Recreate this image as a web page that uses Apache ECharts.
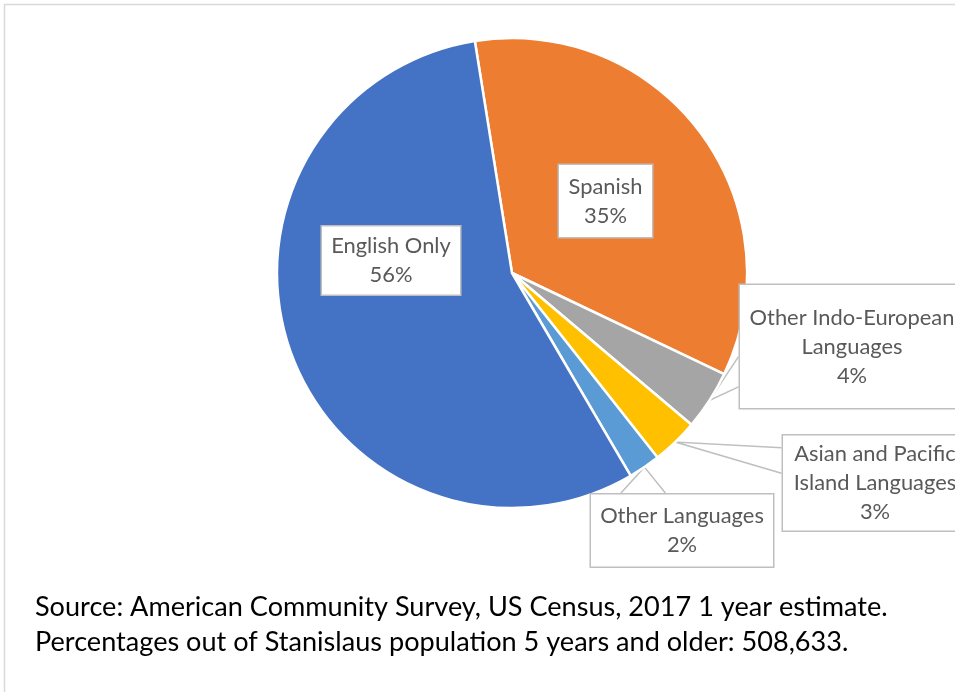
<!DOCTYPE html>
<html>
<head>
<meta charset="utf-8">
<script src="https://cdn.jsdelivr.net/npm/echarts@6/dist/echarts.min.js"></script>
<style>
html,body{margin:0;padding:0;background:#fff;}
#chart{width:955px;height:692px;}
</style>
</head>
<body>
<div id="chart"></div>
<script>
// Data (order follows the pie clockwise from the top)
var categories = ['Spanish', 'Other Indo-European Languages', 'Asian and Pacific Island Languages', 'Other Languages', 'English Only'];
var labelTexts = ['Spanish', 'Other Indo-European\nLanguages', 'Asian and Pacific\nIsland Languages', 'Other Languages', 'English Only'];
var shares = [34.6, 4.1, 3.2, 2.2, 55.9];
var colors = ['#ED7D31', '#A5A5A5', '#FFC000', '#5B9BD5', '#4472C4'];
var footnoteLines = [
  'Source: American Community Survey, US Census, 2017 1 year estimate.',
  'Percentages out of Stanislaus population 5 years and older: 508,633.'
];

var FONT = 'Lato, "Open Sans", sans-serif';

// fit font sizes to the reference text widths (Calibri-like metrics)
function fitSize(text, targetWidth, base) {
  var c = document.createElement('canvas').getContext('2d');
  c.font = base + 'px ' + FONT;
  var w = c.measureText(text).width;
  return Math.round(base * targetWidth / w * 10) / 10;
}
var labelFont = fitSize('Other Languages', 164, 20);
var noteFont = fitSize(footnoteLines[0], 852, 20);

// label box placement (center of each label box), box style, callout base (edge + fractions)
var labelPlace = [
  {x: 605.5, y: 201, w: 81, pad: [7, 6], inside: true},
  {x: 852, y: 346.5, w: 206, pad: [18, 9], edge: 'left', f: [0.58, 0.82]},
  {x: 875, y: 483, w: 168, pad: [4, 8], edge: 'left', f: [0.14, 0.40]},
  {x: 682, y: 530.5, w: 164, pad: [7, 9], edge: 'top', f: [0.17, 0.41]},
  {x: 391, y: 260.5, w: 126, pad: [5, 6], inside: true}
];

var data = categories.map(function (c, i) {
  var p = labelPlace[i];
  return {
    name: c,
    value: shares[i],
    itemStyle: {color: colors[i]},
    label: {
      position: p.inside ? 'inside' : 'outside',
      width: p.w,
      padding: p.pad
    },
    labelLine: {show: !p.inside}
  };
});

var chart = echarts.init(document.getElementById('chart'), null, {renderer: 'canvas'});
chart.setOption({
  backgroundColor: '#fff',
  animation: false,
  graphic: [
    {type: 'rect', shape: {x: 4.5, y: 4.5, width: 1200, height: 1200}, style: {fill: 'none', stroke: '#D9D9D9', lineWidth: 1.5}, silent: true},
    {type: 'text', x: 35, y: 607, style: {text: footnoteLines[0], font: noteFont + 'px ' + FONT, fill: '#000', verticalAlign: 'middle'}},
    {type: 'text', x: 35, y: 642, style: {text: footnoteLines[1], font: noteFont + 'px ' + FONT, fill: '#000', verticalAlign: 'middle'}}
  ],
  series: [{
    type: 'pie',
    center: [512, 273],
    radius: ['0%', 235],
    startAngle: 99.1,
    clockwise: true,
    avoidLabelOverlap: false,
    itemStyle: {borderColor: '#fff', borderWidth: 2.5},
    label: {
      show: true,
      formatter: function (p) {
        return labelTexts[p.dataIndex] + '\n' + Math.round(p.value) + '%';
      },
      fontFamily: FONT,
      fontSize: labelFont,
      lineHeight: 29,
      overflow: 'none',
      color: '#595959',
      align: 'center',
      backgroundColor: '#fff',
      borderColor: '#BFBFBF',
      borderWidth: 1.5
    },
    labelLine: {
      show: true,
      length: 8,
      length2: 8,
      lineStyle: {color: '#BFBFBF', width: 1.5}
    },
    labelLayout: function (params) {
      var p = labelPlace[params.dataIndex];
      var out = {x: p.x, y: p.y, align: 'center', verticalAlign: 'middle'};
      if (!p.inside && params.labelLinePoints) {
        var r = params.labelRect;
        var left = p.x - r.width / 2, top = p.y - r.height / 2;
        var tip = params.labelLinePoints[0];
        var a, b;
        if (p.edge === 'left') {
          a = [left, top + r.height * p.f[0]];
          b = [left, top + r.height * p.f[1]];
        } else {
          a = [left + r.width * p.f[0], top];
          b = [left + r.width * p.f[1], top];
        }
        out.labelLinePoints = [a, tip, b];
      }
      return out;
    },
    data: data
  }]
});
</script>
</body>
</html>
